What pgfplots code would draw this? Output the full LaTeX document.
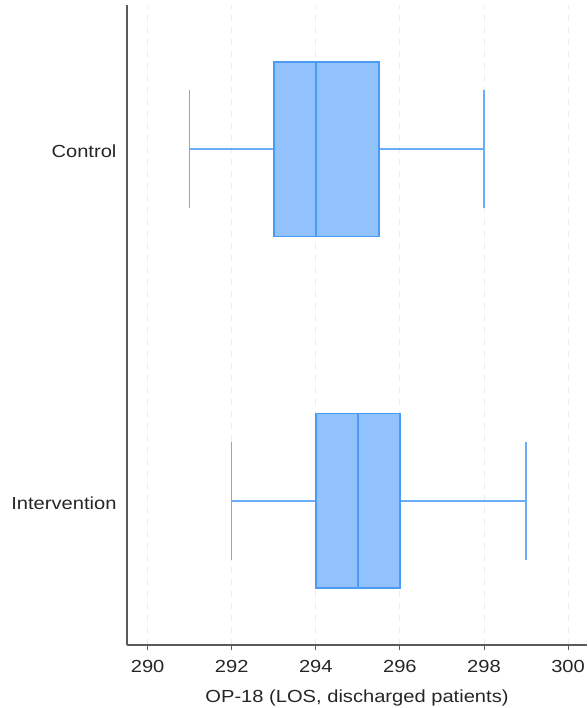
\documentclass[border=0pt]{standalone}
\usepackage{pgfplots}
\pgfplotsset{compat=1.18}
\usepgfplotslibrary{statistics}
\usepackage{fontspec}
\setmainfont[FakeStretch=1.15]{Liberation Sans}
\definecolor{boxfill}{HTML}{91C2FB}
\definecolor{boxedge}{HTML}{4A9BF7}
\definecolor{whisk}{HTML}{6AADFA}
\definecolor{axgray}{HTML}{5A5A5A}
\begin{document}
\begin{tikzpicture}
\useasboundingbox (-127pt,-63pt) rectangle (460pt,645pt);
\begin{axis}[
  at={(0,0)}, anchor=south west,
  scale only axis, width=460pt, height=640pt,
  xmin=289.51, xmax=300.45, ymin=0.59, ymax=2.41,
  axis lines*=left,
  axis line style={axgray, line width=1.2pt},
  xtick={290,292,...,300},
  ytick={1,2}, yticklabels={Intervention,Control},
  ytick style={draw=none},
  xtick style={axgray, line width=0.8pt},
  major tick length=5pt,
  tick align=outside,
  xmajorgrids,
  major grid style={dashed, dash pattern=on 6pt off 6pt, color=black!8, line width=0.8pt},
  /pgf/number format/assume math mode=true,
  ticklabel style={font=\fontsize{17.5}{20}\selectfont, text=black!85},
  yticklabel style={xshift=-2pt, yshift=-2pt},
  xticklabel style={yshift=-7pt},
  xlabel={OP-18 (LOS, discharged patients)},
  xlabel style={font=\fontsize{17.5}{20}\selectfont, text=black!85, yshift=-10pt},
  boxplot/draw direction=x,
  boxplot/box extend=0.496,
  boxplot/whisker extend=0.336,
  clip=false,
]
\addplot+[
  boxplot prepared={
    draw position=2,
    lower whisker=291, lower quartile=293,
    median=294, upper quartile=295.5, upper whisker=298
  },
  fill=boxfill, draw=boxedge, line width=1.6pt, solid, mark=none,
  boxplot/every whisker/.style={draw=whisk, line width=1.6pt},
  boxplot/every median/.style={draw=boxedge, line width=1.6pt},
] coordinates {};
\addplot+[
  boxplot prepared={
    draw position=1,
    lower whisker=292, lower quartile=294,
    median=295, upper quartile=296, upper whisker=299
  },
  fill=boxfill, draw=boxedge, line width=1.6pt, solid, mark=none,
  boxplot/every whisker/.style={draw=whisk, line width=1.6pt},
  boxplot/every median/.style={draw=boxedge, line width=1.6pt},
] coordinates {};
\end{axis}
\end{tikzpicture}
\end{document}
